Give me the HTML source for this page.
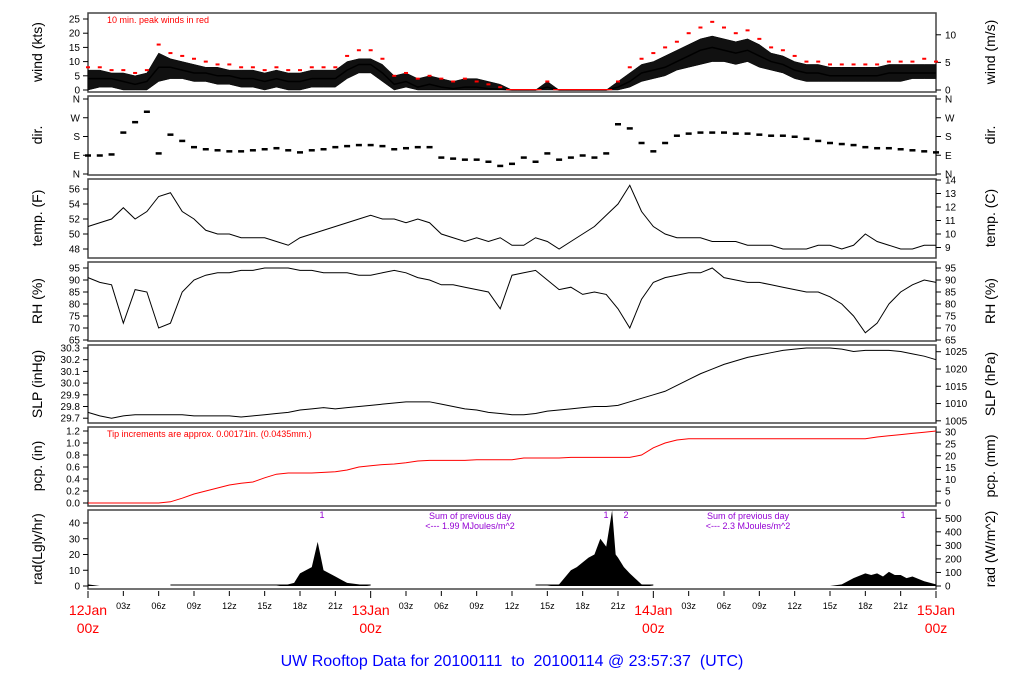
<!DOCTYPE html>
<html><head><meta charset="utf-8"><style>
body{margin:0;background:#fff;}
svg{display:block;font-family:"Liberation Sans",sans-serif;}
</style></head><body>
<svg id="c" width="1024" height="700"></svg>
<script>
const hours=[];for(let i=0;i<=72;i++)hours.push(i);
const windKts=[4,4,4,3,2,3,8,8,7,6,6,5,5,4,4,3,4,3,3,4,4,4,7,9,9,6,2,3,1,2,1,0.5,1,1,0.5,0.3,0,0,0,1,0,0,0,0,0,1,3,6,7,8,10,12,14,15,14,13,14,12,10,9,7,6,6,5,5,5,5,5,6,6,6,6,6];
const windMax=[7,7,6,6,5,6,13,11,10,9,8,8,7,7,7,6,7,6,6,7,7,7,10,11,11,9,5,6,4,5,4,3,4,4,3,2,0,0,0,3,0,0,0,0,0,3,6,9,10,12,14,16,18,19,18,17,18,16,13,12,10,9,9,8,8,8,8,8,9,9,9,9,9];
const windMin=[0,1,1,0,0,0,3,4,4,3,3,2,2,1,1,0,1,0,0,1,1,1,4,6,6,3,0,1,0,0,0,0,0,0,0,0,0,0,0,0,0,0,0,0,0,0,1,3,4,5,7,8,9,10,10,9,10,8,7,6,4,3,3,3,3,3,3,3,3,3,4,4,4];
const gustKts=[8,8,7,7,6,7,16,13,12,11,10,9,9,8,8,7,8,7,7,8,8,8,12,14,14,11,5,6,4,5,4,3,4,3,2,1,0,0,0,3,0,0,0,0,0,3,8,11,13,15,17,20,22,24,22,20,21,18,15,14,12,10,10,9,9,9,9,9,10,10,10,11,10];
const dirDeg=[90,90,95,200,250,300,100,190,160,130,120,115,110,110,115,120,125,115,105,115,120,130,135,140,140,135,120,125,130,130,80,75,70,70,60,40,50,80,60,100,70,80,90,80,100,240,220,150,110,150,185,195,200,200,200,195,195,190,185,185,180,170,160,150,145,140,130,125,125,120,115,110,105];
const tempF=[51,51.5,52,53.5,52,53,55,55.5,53,52,50.5,50,50,49.5,49.5,49.5,49,48.5,49.5,50,50.5,51,51.5,52,52.5,52,52,51.5,52,51.5,50,49.5,49,49.5,49,49.5,48.5,48.5,49.5,49,48,49,50,51,52.5,54,56.5,53,51,50,49.5,49.5,49.5,49,49,49,48.5,48.5,48.5,48,48,48,48.5,48.5,48,48.5,50,49,48.5,48,48,48.5,48.5];
const rhPct=[91,89,88,72,86,85,70,72,85,90,92,93,93,94,94,95,95,95,94,94,93,93,93,92,92,93,94,93,91,90,88,88,87,86,85,78,92,93,94,90,86,87,84,85,84,78,70,82,89,91,92,93,93,95,91,90,89,89,88,87,86,85,85,83,80,75,68,72,80,85,88,90,89];
const slpInHg=[29.75,29.72,29.70,29.72,29.73,29.73,29.73,29.73,29.73,29.72,29.72,29.72,29.72,29.71,29.72,29.73,29.74,29.75,29.77,29.78,29.79,29.78,29.79,29.80,29.81,29.82,29.83,29.84,29.84,29.84,29.82,29.80,29.78,29.77,29.75,29.74,29.73,29.73,29.74,29.76,29.77,29.78,29.79,29.80,29.80,29.81,29.84,29.87,29.90,29.93,29.98,30.03,30.08,30.12,30.16,30.19,30.22,30.24,30.26,30.28,30.29,30.30,30.30,30.30,30.29,30.27,30.28,30.28,30.28,30.27,30.25,30.23,30.20];
const pcpIn=[0,0,0,0,0,0,0,0.02,0.08,0.15,0.2,0.25,0.3,0.33,0.35,0.42,0.48,0.5,0.5,0.5,0.51,0.52,0.55,0.6,0.62,0.64,0.65,0.67,0.7,0.71,0.71,0.71,0.71,0.72,0.72,0.72,0.72,0.75,0.75,0.75,0.75,0.76,0.76,0.76,0.76,0.76,0.76,0.8,0.92,1.0,1.05,1.07,1.07,1.07,1.07,1.07,1.07,1.07,1.07,1.07,1.07,1.07,1.07,1.07,1.07,1.07,1.07,1.1,1.12,1.14,1.16,1.18,1.2];
const radHours=[0,1,16,17,17.5,18,18.5,19,19.5,20,20.5,21,21.5,22,23,24,39,40,41,41.5,42,42.5,43,43.5,44,44.5,44.8,45,45.5,46,47,48,63,64,65,66,66.5,67,67.5,68,68.5,69,69.5,70,71,72];
const radLgly=[1,0,0,1,2,8,10,12,28,10,8,6,4,2,1,0,0,1,10,12,15,18,20,30,25,48,20,18,12,8,1,0,0,1,5,8,7,8,6,9,7,7,5,6,3,1];
const dayLabels=["12Jan","13Jan","14Jan","15Jan"];
const hourLabels=["03z","06z","09z","12z","15z","18z","21z"];

const svg=document.getElementById('c');const NS='http://www.w3.org/2000/svg';
function mk(t,a,p){const e=document.createElementNS(NS,t);for(const k in a)e.setAttribute(k,a[k]);(p||svg).appendChild(e);return e;}
function tx(s,x,y,o){const e=mk('text',Object.assign({x:x,y:y,'font-size':10,fill:'#000'},o||{}));e.textContent=s;return e;}
const X0=88,X1=936;const xs=h=>X0+h*(X1-X0)/72;
function panel(name,top,bot){const g=mk('g',{});
 mk('rect',{x:X0,y:top,width:X1-X0,height:bot-top,fill:'none',stroke:'#444','stroke-width':1.5},g);return g;}
function ticks(g,vals,labs,yf,side){vals.forEach((v,i)=>{const y=yf(v);
 if(side==='l'){mk('line',{x1:X0-5,x2:X0,y1:y,y2:y,stroke:'#000'},g);const t=tx(labs[i],X0-8,y+3.5,{'text-anchor':'end'});g.appendChild(t);}
 else{mk('line',{x1:X1,x2:X1+5,y1:y,y2:y,stroke:'#000'},g);const t=tx(labs[i],X1+9,y+3.5);g.appendChild(t);}});}
function vlab(g,s,x,y){const t=tx(s,x,y,{'font-size':14,'text-anchor':'middle',transform:'rotate(-90 '+x+' '+y+')'});g.appendChild(t);}
function line(g,xsA,ys,col,w,name){const p=mk('polyline',{points:xsA.map((h,i)=>xs(h)+','+ys[i]).join(' '),fill:'none',stroke:col,'stroke-width':w},g);return p;}
const r5=(a,b,s)=>{const o=[];for(let v=a;v<=b+1e-9;v+=s)o.push(+v.toFixed(2));return o;};

// wind
let g=panel('wind-panel',13,92);const wy=v=>90-v*2.84;
ticks(g,r5(0,25,5),r5(0,25,5).map(String),wy,'l');
ticks(g,[0,5,10],['0','5','10'],v=>wy(v*1.944),'r');
vlab(g,'wind (kts)',42,52);vlab(g,'wind (m/s)',995,52);
const band=mk('polygon',{points:hours.map((h,i)=>xs(h)+','+wy(windMax[i])).concat(hours.slice().reverse().map(h=>xs(h)+','+wy(windMin[h]))).join(' '),fill:'#111',stroke:'#000','stroke-width':0.5},g);

line(g,hours,windKts.map(wy),'#000',1.5,'wind-line');
gustKts.forEach((v,i)=>{const r=v>0?mk('rect',{x:xs(hours[i])-2,y:wy(v)-1,width:4,height:2,fill:'red'},g):mk('rect',{x:xs(hours[i])-6,y:wy(0)-1,width:12,height:1.2,fill:'red'},g);});
tx('10 min. peak winds in red',107,23,{fill:'red','font-size':9});
// dir
g=panel('direction-panel',96,175);const dy=d=>174-d/360*75;
ticks(g,[0,90,180,270,360],['N','E','S','W','N'],dy,'l');ticks(g,[0,90,180,270,360],['N','E','S','W','N'],dy,'r');
vlab(g,'dir.',42,135);vlab(g,'dir.',995,135);
dirDeg.forEach((d,i)=>{const r=mk('rect',{x:xs(hours[i])-3,y:dy(d)-1,width:6,height:2.5,fill:'#000'},g);});
// temp
g=panel('temp-panel',179,258);const ty=t=>234-(t-50)*7.5;
ticks(g,[48,50,52,54,56],['48','50','52','54','56'],ty,'l');
ticks(g,[9,10,11,12,13,14],['9','10','11','12','13','14'],c=>ty(c*1.8+32),'r');
vlab(g,'temp. (F)',42,218);vlab(g,'temp. (C)',995,218);
line(g,hours,tempF.map(ty),'#000',1,'temp-line');
// RH
g=panel('rh-panel',262,341);const ry=v=>268+(95-v)*2.4;
ticks(g,r5(65,95,5),r5(65,95,5).map(String),ry,'l');ticks(g,r5(65,95,5),r5(65,95,5).map(String),ry,'r');
vlab(g,'RH (%)',42,301);vlab(g,'RH (%)',995,301);
line(g,hours,rhPct.map(ry),'#000',1,'rh-line');
// SLP
g=panel('slp-panel',345,423);const sy=p=>348+(30.3-p)*117;
const sv=r5(29.7,30.3,0.1);ticks(g,sv,sv.map(v=>v.toFixed(1)),sy,'l');
ticks(g,[1005,1010,1015,1020,1025],['1005','1010','1015','1020','1025'],h=>sy(h/33.8639),'r');
vlab(g,'SLP (inHg)',42,384);vlab(g,'SLP (hPa)',995,384);
line(g,hours,slpInHg.map(sy),'#000',1,'slp-line');
// pcp
g=panel('pcp-panel',427,506);const py=p=>503-p*60;
const pv=r5(0,1.2,0.2);ticks(g,pv,pv.map(v=>v.toFixed(1)),py,'l');
const mv=r5(0,30,5);ticks(g,mv,mv.map(String),m=>py(m/25.4),'r');
vlab(g,'pcp. (in)',42,466);vlab(g,'pcp. (mm)',995,466);
line(g,hours,pcpIn.map(py),'red',1,'pcp-line');
tx('Tip increments are approx. 0.00171in. (0.0435mm.)',107,437,{fill:'red','font-size':9});
// rad
g=panel('rad-panel',510,589);const ay=v=>586-v*1.575;
ticks(g,r5(0,40,10),r5(0,40,10).map(String),ay,'l');
const wv=r5(0,500,100);ticks(g,wv,wv.map(String),w=>ay(w/11.63),'r');
vlab(g,'rad(Lgly/hr)',42,549);vlab(g,'rad (W/m^2)',995,549);
const ap=mk('polygon',{points:xs(radHours[0])+','+ay(0)+' '+radHours.map((h,i)=>xs(h)+','+ay(radLgly[i])).join(' ')+' '+xs(radHours[radHours.length-1])+','+ay(0),fill:'#000'},g);

mk('line',{x1:xs(7),x2:xs(24),y1:585,y2:585,stroke:'#000'},g);mk('line',{x1:xs(38),x2:xs(48),y1:585,y2:585,stroke:'#000'},g);
[[322,'1'],[606,'1'],[626,'2'],[903,'1']].forEach(a=>tx(a[1],a[0],518,{fill:'#9400d3','font-size':9,'text-anchor':'middle'}));
tx('Sum of previous day',470,519,{fill:'#9400d3','font-size':9,'text-anchor':'middle'});
tx('<--- 1.99 MJoules/m^2',470,529,{fill:'#9400d3','font-size':9,'text-anchor':'middle'});
tx('Sum of previous day',748,519,{fill:'#9400d3','font-size':9,'text-anchor':'middle'});
tx('<--- 2.3 MJoules/m^2',748,529,{fill:'#9400d3','font-size':9,'text-anchor':'middle'});
// time axis
g=mk('g',{});
for(let h=0;h<=72;h+=3){mk('line',{x1:xs(h),x2:xs(h),y1:591,y2:h%24?596:598,stroke:'#000'},g);
 if(h%24){g.appendChild(tx(hourLabels[(h%24)/3-1],xs(h),609,{'text-anchor':'middle','font-size':9}));}}
dayLabels.forEach((d,i)=>{g.appendChild(tx(d,xs(i*24),615,{'text-anchor':'middle','font-size':14,fill:'red'}));g.appendChild(tx('00z',xs(i*24),633,{'text-anchor':'middle','font-size':14,fill:'red'}));});
const ti=tx('UW Rooftop Data for 20100111  to  20100114 @ 23:57:37  (UTC)',512,666,{'text-anchor':'middle','font-size':16,fill:'#0000ff',style:'white-space:pre'});

</script></body></html>
